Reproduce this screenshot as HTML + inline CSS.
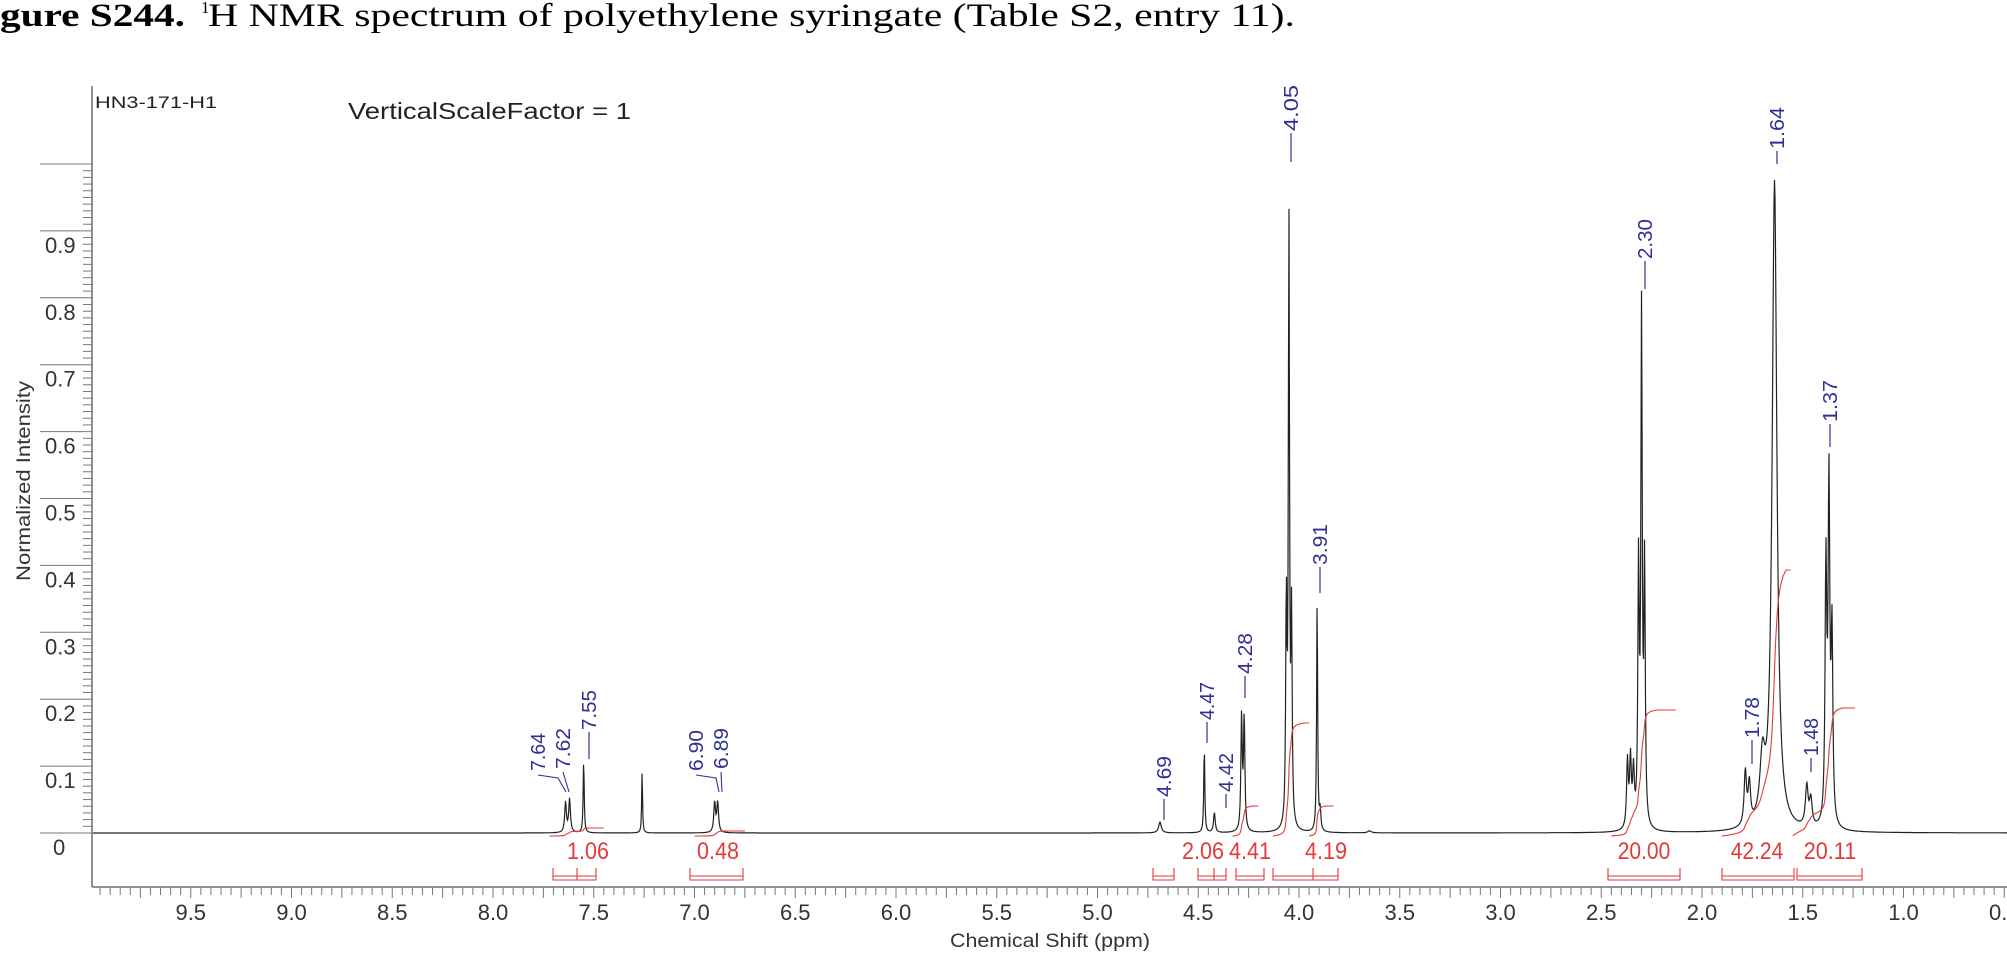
<!DOCTYPE html>
<html><head><meta charset="utf-8"><style>
html,body{margin:0;padding:0;background:#fff;}
svg{display:block;}
text{font-family:"Liberation Sans",sans-serif;}
</style></head><body>
<svg id="s" width="2007" height="953" viewBox="0 0 2007 953" xmlns="http://www.w3.org/2000/svg">
<text x="0" y="26" style="font-family:'Liberation Serif',serif;font-weight:bold;font-size:33px" textLength="185" lengthAdjust="spacingAndGlyphs">gure S244.</text>
<text x="201" y="13" style="font-family:'Liberation Serif',serif;font-size:17px">1</text>
<text x="208" y="26" style="font-family:'Liberation Serif',serif;font-size:33px" textLength="1087" lengthAdjust="spacingAndGlyphs">H NMR spectrum of polyethylene syringate (Table S2, entry 11).</text>
<text x="95" y="108" style="font-size:17px" fill="#222" textLength="122" lengthAdjust="spacingAndGlyphs">HN3-171-H1</text>
<text x="348" y="119" style="font-size:23px" fill="#222" textLength="283" lengthAdjust="spacingAndGlyphs">VerticalScaleFactor = 1</text>
<text transform="translate(30,481) rotate(-90)" text-anchor="middle" style="font-size:19px" fill="#333" textLength="200" lengthAdjust="spacingAndGlyphs">Normalized Intensity</text>
<text x="950" y="947" style="font-size:19px" fill="#333" textLength="200" lengthAdjust="spacingAndGlyphs">Chemical Shift (ppm)</text>
<line x1="92" y1="86" x2="92" y2="887" stroke="#555" stroke-width="1.3"/>
<line x1="92" y1="887" x2="2007" y2="887" stroke="#555" stroke-width="1.3"/>
<g id="ax" stroke="#777" stroke-width="1"></g>
<g id="axt" fill="#333" style="font-size:22px"></g>
<path id="spec" fill="none" stroke="#222" stroke-width="1.2"/>
<g id="integ" fill="none" stroke="#e23a3a" stroke-width="1.1"></g>
<g id="lab" fill="#2e3192" style="font-size:20px"></g>
<g id="ilab" fill="#e23a3a" style="font-size:24px"></g>
</svg>
<script>
var NS="http://www.w3.org/2000/svg";
function X(p){return 2105-201.5*p;}
var Y0=833,SC=669;
function el(par,tag,attrs,txt){var e=document.createElementNS(NS,tag);for(var k in attrs)e.setAttribute(k,attrs[k]);if(txt!==undefined)e.textContent=txt;document.getElementById(par).appendChild(e);return e;}
for(var i=0;i<=100;i++){var y=Y0-i*6.69;
 if(i%10==0){el("ax","line",{x1:40,y1:y,x2:92,y2:y});}
 else el("ax","line",{x1:83,y1:y,x2:92,y2:y});}
for(var i=1;i<=9;i++){el("axt","text",{x:45,y:Y0-i*66.9+22},"0."+i);}
el("axt","text",{x:53,y:855},"0");
for(var k=0;k<=200;k++){var p=10-k*0.05;var x=X(p);if(x<92||x>2007)continue;
 var big=(k%5==0);el("ax","line",{x1:x,y1:887,x2:x,y2:big?898:895});}
var xl=["9.5","9.0","8.5","8.0","7.5","7.0","6.5","6.0","5.5","5.0","4.5","4.0","3.5","3.0","2.5","2.0","1.5","1.0","0.5"];
xl.forEach(function(s){el("axt","text",{x:X(parseFloat(s)),y:920,"text-anchor":"middle"},s);});
var P=[[7.64,0.045,0.005],[7.62,0.05,0.005],[7.55,0.11,0.003],[7.26,0.093,0.0025],[6.90,0.045,0.005],[6.885,0.045,0.005],
[4.69,0.016,0.008],[4.47,0.13,0.003],[4.42,0.03,0.005],[4.285,0.17,0.004],[4.272,0.17,0.004],
[4.063,0.33,0.0035],[4.05,0.9,0.0035],[4.037,0.3,0.0035],[3.91,0.35,0.003],[3.895,0.03,0.004],
[2.37,0.1,0.005],[2.355,0.1,0.005],[2.34,0.08,0.005],[2.315,0.38,0.004],[2.30,0.76,0.004],[2.285,0.38,0.004],
[1.785,0.08,0.007],[1.765,0.06,0.007],[1.70,0.09,0.015],[1.64,0.97,0.014],
[1.48,0.06,0.008],[1.46,0.04,0.008],[1.385,0.38,0.005],[1.37,0.5,0.005],[1.355,0.28,0.005],[3.65,0.003,0.01]];
function f(p){var s=0;for(var i=0;i<P.length;i++){var d=(p-P[i][0])/P[i][2];s+=P[i][1]/(1+d*d);}return s;}
var d="";for(var x=93;x<=2007;x+=0.5){var p=(2105-x)/201.5;var v=f(p);d+=(x==93?"M":"L")+x.toFixed(1)+","+(Y0-v*SC).toFixed(1);}
document.getElementById("spec").setAttribute("d",d);
var I=[[7.72,7.5,8,7.45],[7.0,6.8,5,6.75],[4.33,4.22,30,4.2],[4.13,3.97,113,3.95],[3.95,3.86,30,3.83],[2.45,2.22,126,2.13],[1.9,1.58,266,1.56],[1.55,1.3,128,1.24]];
I.forEach(function(r){var tot=0,pts=[],st=0.002;for(var p=r[0];p>=r[1];p-=st){tot+=f(p);pts.push([p,tot]);}
 var dd="";pts.forEach(function(q,i){dd+=(i?"L":"M")+X(q[0]).toFixed(1)+","+(Y0+3-q[1]/tot*r[2]).toFixed(1);});
 dd+="L"+X(r[3]).toFixed(1)+","+(Y0+3-r[2]).toFixed(1);el("integ","path",{d:dd});});
var B=[[553,596,[577]],[690,743,[]],[1153,1174,[]],[1198,1226,[1214]],[1236,1264,[]],[1273,1338,[1313]],[1608,1680,[]],[1722,1794,[]],[1797,1862,[]]];
B.forEach(function(b){el("integ","path",{d:"M"+b[0]+",868V880H"+b[1]+"V868"});el("integ","line",{x1:b[0],y1:876,x2:b[1],y2:876});b[2].forEach(function(t){el("integ","line",{x1:t,y1:868,x2:t,y2:880});});});
var IL=[["1.06",588],["0.48",718],["2.06",1203],["4.41",1250],["4.19",1326],["20.00",1644],["42.24",1757],["20.11",1830]];
IL.forEach(function(l){el("ilab","text",{x:l[1],y:859,"text-anchor":"middle",textLength:l[0].length*10.5,lengthAdjust:"spacingAndGlyphs"},l[0]);});
var L=[["4.05",1291,85,131,162],["2.30",1645,219,259,289],["1.64",1777,107,149,164],["1.37",1830,380,422,447],["3.91",1320,524,565,593],["4.28",1245,633,674,698],["4.47",1207,682,720,743],["4.42",1226,753,792,808],["4.69",1164,756,797,820],["1.78",1752,697,738,764],["1.48",1811,718,756,772],["7.55",589,690,730,759]];
L.forEach(function(l){var cx=l[1];el("lab","text",{transform:"translate("+(cx+7)+","+l[3]+") rotate(-90)",textLength:l[3]-l[2],lengthAdjust:"spacingAndGlyphs"},l[0]);
 el("lab","line",{x1:cx,y1:l[3]+2,x2:cx,y2:l[4],stroke:"#2e3192","stroke-width":1.2});});
var L2=[["7.64",538,733,771,[[538,775],[558,778],[566,792]]],["7.62",563,728,769,[[563,772],[569,792]]],["6.90",696,730,771,[[696,775],[716,778],[719,792]]],["6.89",721,728,769,[[721,772],[722,792]]]];
L2.forEach(function(l){el("lab","text",{transform:"translate("+(l[1]+7)+","+l[3]+") rotate(-90)",textLength:l[3]-l[2],lengthAdjust:"spacingAndGlyphs"},l[0]);
 el("lab","polyline",{points:l[4].map(function(q){return q.join(",");}).join(" "),fill:"none",stroke:"#2e3192","stroke-width":1.1});});
</script>
</body></html>
